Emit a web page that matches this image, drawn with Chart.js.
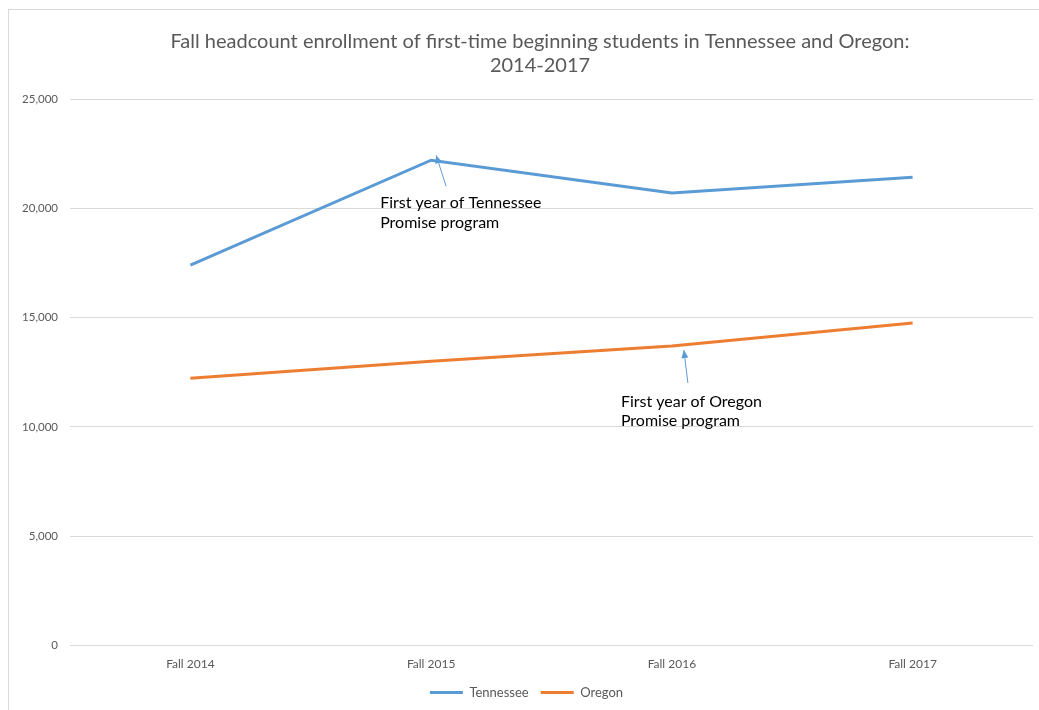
<!DOCTYPE html>
<html>
<head>
<meta charset="utf-8">
<script src="https://cdn.jsdelivr.net/npm/chart.js@4"></script>
<style>
  html, body { margin: 0; padding: 0; background: #fff; }
  #wrap { position: relative; width: 1039px; height: 710px; overflow: hidden; }
  #frame { position: absolute; left: 8px; top: 9px; width: 1100px; height: 800px;
           border-left: 1px solid #d9d9d9; border-top: 1px solid #d9d9d9; }
  canvas { position: absolute; left: 0; top: 0; }
</style>
</head>
<body>
<div id="wrap">
  <div id="frame"></div>
  <canvas id="myChart" width="1039" height="710"></canvas>
</div>
<script>
var categories = ['Fall 2014', 'Fall 2015', 'Fall 2016', 'Fall 2017']
var tennessee = [17400, 22200, 20700, 21420]
var oregon = [12230, 13000, 13700, 14760]
var yTicks = [0, 5000, 10000, 15000, 20000, 25000]
var titleLines = ['Fall headcount enrollment of first-time beginning students in Tennessee and Oregon:', '2014-2017']
var noteTN = ['First year of Tennessee', 'Promise program']
var noteOR = ['First year of Oregon', 'Promise program']

var FONT = 'Lato, "Open Sans", sans-serif'
var blue = '#5B9BD5'
var orange = '#ED7D31'

function drawArrow(ctx, x1, y1, x2, y2){
    ctx.save()
    ctx.strokeStyle = blue
    ctx.fillStyle = blue
    ctx.lineWidth = 1
    ctx.beginPath()
    ctx.moveTo(x1, y1)
    ctx.lineTo(x2, y2)
    ctx.stroke()
    let a = Math.atan2(y2 - y1, x2 - x1)
    let len = 8, wid = 3.5
    ctx.beginPath()
    ctx.moveTo(x2, y2)
    ctx.lineTo(x2 - len * Math.cos(a) + wid * Math.sin(a), y2 - len * Math.sin(a) - wid * Math.cos(a))
    ctx.lineTo(x2 - len * Math.cos(a) - wid * Math.sin(a), y2 - len * Math.sin(a) + wid * Math.cos(a))
    ctx.closePath()
    ctx.fill()
    ctx.restore()
}

// title + annotations, anchored on the data points
const extras = {
    id: 'extras',
    afterDraw(chart){
        let ctx = chart.ctx
        let x = chart.scales.x, y = chart.scales.y
        ctx.save()
        ctx.fillStyle = '#595959'
        ctx.font = '20px ' + FONT
        ctx.textAlign = 'center'
        ctx.textBaseline = 'middle'
        ctx.fillText(titleLines[0], 540, 42)
        ctx.fillText(titleLines[1], 540, 66)

        ctx.fillStyle = '#000'
        ctx.font = '16px ' + FONT
        ctx.textAlign = 'left'
        let px = x.getPixelForValue(1), py = y.getPixelForValue(tennessee[1])
        drawArrow(ctx, px + 15, py + 26, px + 5, py - 5)
        ctx.fillText(noteTN[0], px - 51, py + 43)
        ctx.fillText(noteTN[1], px - 51, py + 63)

        px = x.getPixelForValue(2); py = y.getPixelForValue(oregon[2])
        drawArrow(ctx, px + 16, py + 37, px + 12, py + 4)
        ctx.fillText(noteOR[0], px - 51, py + 56)
        ctx.fillText(noteOR[1], px - 51, py + 75)
        ctx.restore()
    }
}

let myChart = document.getElementById('myChart').getContext('2d')
let chart = new Chart(myChart, {
    type: 'line',
    data: {
        labels: categories,
        datasets: [
            {label: 'Tennessee', data: tennessee, borderColor: blue, backgroundColor: blue,
             borderWidth: 3, pointRadius: 0, tension: 0},
            {label: 'Oregon', data: oregon, borderColor: orange, backgroundColor: orange,
             borderWidth: 3, pointRadius: 0, tension: 0}
        ]
    },
    options: {
        responsive: false,
        animation: false,
        layout: {padding: {left: 20, right: 6, top: 99, bottom: 1}},
        plugins: {
            title: {display: false},
            tooltip: {enabled: false},
            legend: {
                position: 'bottom',
                labels: {
                    usePointStyle: true,
                    pointStyle: 'line',
                    pointStyleWidth: 33,
                    color: '#595959',
                    font: {family: FONT, size: 13},
                    padding: 12
                }
            }
        },
        scales: {
            x: {
                offset: true,
                grid: {display: false},
                border: {display: false},
                ticks: {color: '#595959', font: {family: FONT, size: 12}, padding: 3}
            },
            y: {
                min: 0, max: 25000,
                afterFit(scale){ scale.width = 50 },
                afterBuildTicks(scale){ scale.ticks = yTicks.map(v => ({value: v})) },
                grid: {color: '#d9d9d9', lineWidth: 1, drawTicks: false},
                border: {display: false},
                ticks: {
                    color: '#595959', font: {family: FONT, size: 11.5}, padding: 12,
                    callback: v => v.toLocaleString('en-US')
                }
            }
        }
    },
    plugins: [extras]
})
</script>
</body>
</html>
